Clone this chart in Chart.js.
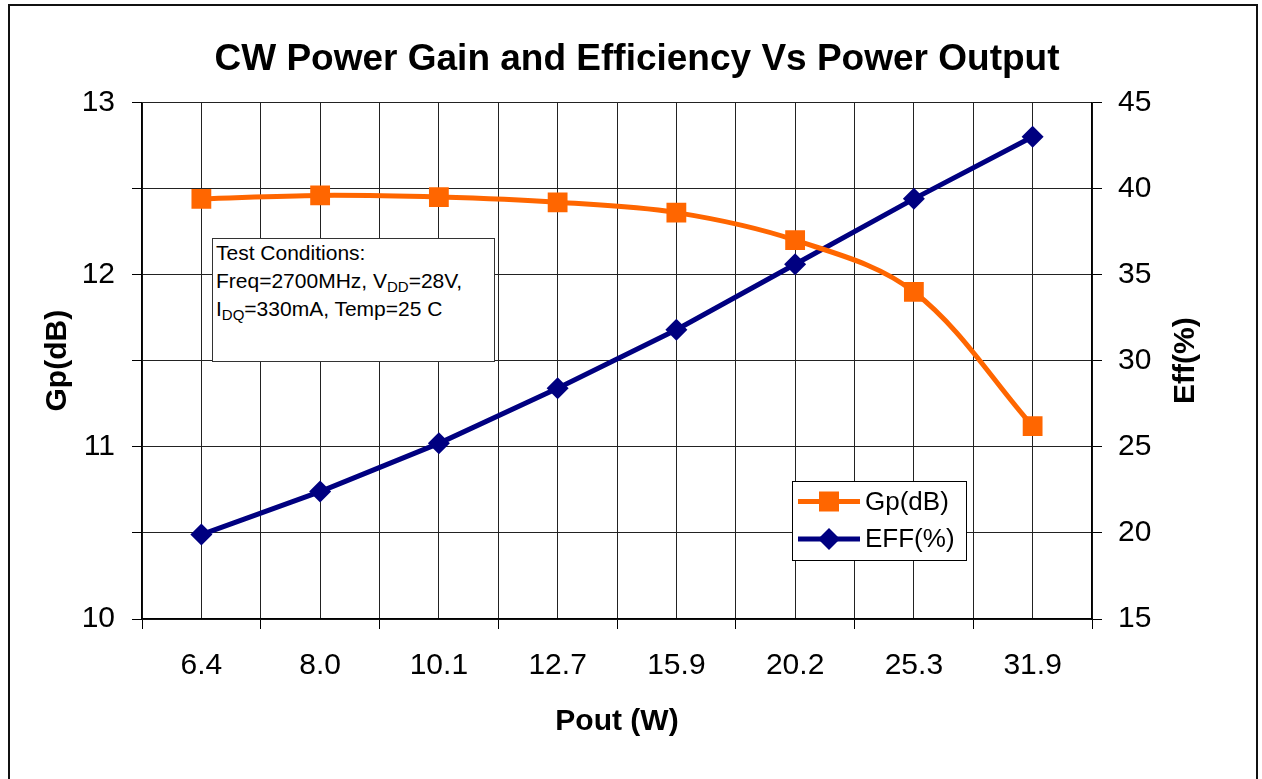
<!DOCTYPE html>
<html>
<head>
<meta charset="utf-8">
<script src="https://cdn.jsdelivr.net/npm/chart.js@4.4.0/dist/chart.umd.min.js"></script>
<style>
  html, body { margin: 0; padding: 0; background: #fff; overflow: hidden; }
  #wrap { position: relative; width: 1262px; height: 779px; }
  #frame { position: absolute; left: 8px; top: 4px; width: 1250px; height: 800px; border: 2px solid #111; box-sizing: border-box; pointer-events: none; }
  #cond {
    position: absolute; left: 212px; top: 238px; width: 283px; height: 124px;
    box-sizing: border-box; border: 1px solid #333; background: #fff;
    font-family: Arial, "Liberation Sans", sans-serif; font-size: 21px; line-height: 28px;
    padding: 0 0 0 3px; color: #000;
  }
  #cond sub { font-size: 15px; vertical-align: -4px; line-height: 0; }
</style>
</head>
<body>
<div id="wrap">
  <canvas id="chart" width="1262" height="779"></canvas>
  <div id="cond">Test Conditions:<br>Freq=2700MHz, V<sub>DD</sub>=28V,<br>I<sub>DQ</sub>=330mA, Temp=25 C</div>
  <div id="frame"></div>
</div>
<script>
const categories = ['6.4', '8.0', '10.1', '12.7', '15.9', '20.2', '25.3', '31.9'];
const gpValues = [12.44, 12.46, 12.45, 12.42, 12.36, 12.20, 11.90, 11.12];
const effValues = [19.9, 22.4, 25.2, 28.4, 31.8, 35.6, 39.4, 43.0];
const gpRange = [10, 13];
const effRange = [15, 45];

const FONT = 'Arial, "Liberation Sans", sans-serif';
const ORANGE = '#ff6600';
const NAVY = '#000080';

// right axis title reads bottom-to-top, so draw it by hand
const rightTitle = {
  id: 'rightTitle',
  afterDraw(chart) {
    const ctx = chart.ctx;
    const area = chart.chartArea;
    ctx.save();
    ctx.translate(1186, (area.top + area.bottom) / 2);
    ctx.rotate(-Math.PI / 2);
    ctx.font = 'bold 30px ' + FONT;
    ctx.fillStyle = '#000';
    ctx.textAlign = 'center';
    ctx.textBaseline = 'middle';
    ctx.fillText('Eff(%)', 0, 0);
    ctx.restore();
  }
};

// legend box inside the plot
const boxLegend = {
  id: 'boxLegend',
  afterDatasetsDraw(chart) {
    const ctx = chart.ctx;
    const x0 = 792.5, y0 = 481.5, w = 174, h = 79;
    ctx.save();
    ctx.fillStyle = '#fff';
    ctx.fillRect(x0, y0, w, h);
    ctx.strokeStyle = '#000';
    ctx.lineWidth = 1;
    ctx.strokeRect(x0, y0, w, h);
    chart.data.datasets.forEach((ds, i) => {
      const y = y0 + 20 + i * 37.5;
      ctx.strokeStyle = ds.borderColor;
      ctx.lineWidth = 5;
      ctx.beginPath();
      ctx.moveTo(798, y);
      ctx.lineTo(860, y);
      ctx.stroke();
      ctx.fillStyle = ds.borderColor;
      if (ds.pointStyle === 'rect') {
        ctx.fillRect(829 - 10, y - 10, 20, 20);
      } else {
        ctx.beginPath();
        ctx.moveTo(829, y - 11);
        ctx.lineTo(840, y);
        ctx.lineTo(829, y + 11);
        ctx.lineTo(818, y);
        ctx.closePath();
        ctx.fill();
      }
      ctx.fillStyle = '#000';
      ctx.font = '26px ' + FONT;
      ctx.textAlign = 'left';
      ctx.textBaseline = 'middle';
      ctx.fillText(ds.label, 865, y + 1);
    });
    ctx.restore();
  }
};

const config = {
  type: 'line',
  data: {
    datasets: [
      {
        label: 'Gp(dB)',
        data: gpValues.map((v, i) => ({ x: i, y: v })),
        yAxisID: 'y',
        borderColor: ORANGE,
        backgroundColor: ORANGE,
        borderWidth: 5,
        pointStyle: 'rect',
        pointRadius: 14,
        pointBorderWidth: 0,
        tension: 0.35
      },
      {
        label: 'EFF(%)',
        data: effValues.map((v, i) => ({ x: i, y: v })),
        yAxisID: 'y1',
        borderColor: NAVY,
        backgroundColor: NAVY,
        borderWidth: 5,
        pointStyle: 'rectRot',
        pointRadius: 11,
        pointBorderWidth: 0,
        tension: 0
      }
    ]
  },
  options: {
    responsive: false,
    animation: false,
    devicePixelRatio: 1,
    layout: { padding: { left: 12, right: 0, top: 0, bottom: 0 } },
    plugins: {
      legend: { display: false },
      tooltip: { enabled: false },
      title: {
        display: true,
        text: 'CW Power Gain and Efficiency Vs Power Output',
        color: '#000',
        font: { family: FONT, size: 37, weight: 'bold' },
        padding: { top: 38, bottom: 20 }
      }
    },
    scales: {
      x: {
        type: 'linear',
        min: -0.5,
        max: categories.length - 0.5,
        afterFit: (s) => { s.height = 160; },
        ticks: {
          stepSize: 0.5,
          autoSkip: false,
          maxRotation: 0,
          padding: 19,
          color: '#000',
          font: { family: FONT, size: 30 },
          callback: (v) => Number.isInteger(v) ? categories[v] : ''
        },
        grid: {
          color: '#222',
          lineWidth: 1,
          tickLength: 10,
          tickColor: (c) => (c.tick && Number.isInteger(c.tick.value)) ? 'rgba(0,0,0,0)' : '#000'
        },
        border: { color: '#000', width: 1.5 },
        title: {
          display: true,
          text: 'Pout (W)',
          color: '#000',
          font: { family: FONT, size: 30, weight: 'bold' },
          padding: { top: 0, bottom: 39 }
        }
      },
      y: {
        position: 'left',
        min: gpRange[0],
        max: gpRange[1],
        afterFit: (s) => { s.width = 130; },
        ticks: {
          stepSize: 0.5,
          padding: 17,
          color: '#000',
          font: { family: FONT, size: 30 },
          callback: (v) => Number.isInteger(v) ? String(v) : ''
        },
        grid: { color: '#222', lineWidth: 1, tickLength: 10, tickColor: '#000' },
        border: { color: '#000', width: 1.5 },
        title: {
          display: true,
          text: 'Gp(dB)',
          color: '#000',
          font: { family: FONT, size: 30, weight: 'bold' },
          padding: { top: 28, bottom: 0 }
        }
      },
      y1: {
        position: 'right',
        min: effRange[0],
        max: effRange[1],
        afterFit: (s) => { s.width = 170; },
        ticks: {
          stepSize: 5,
          padding: 16,
          color: '#000',
          font: { family: FONT, size: 30 }
        },
        grid: { drawOnChartArea: false, tickLength: 10, color: '#000' },
        border: { color: '#000', width: 1.5 }
      }
    }
  },
  plugins: [rightTitle, boxLegend]
};

new Chart(document.getElementById('chart').getContext('2d'), config);
</script>
</body>
</html>
